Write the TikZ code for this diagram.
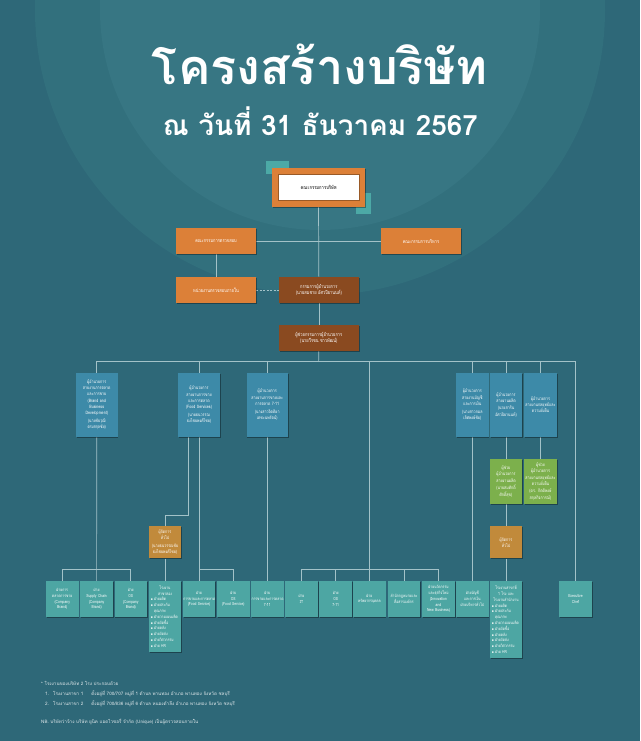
\documentclass[tikz,border=0pt]{standalone}
\usepackage{graphicx}
\usepackage{fontspec}
\setmainfont[Script=Thai]{Loma}
\newfontfamily\condthai[Script=Thai,FakeStretch=0.8]{Loma}
\usetikzlibrary{shadows}
\definecolor{bgc}{HTML}{2E6878}
\definecolor{ringa}{HTML}{32707D}
\definecolor{ringb}{HTML}{377683}
\definecolor{orangec}{HTML}{DC8038}
\definecolor{brownc}{HTML}{8A4A20}
\definecolor{bluec}{HTML}{3D8AA8}
\definecolor{greenc}{HTML}{7CB04C}
\definecolor{ochrec}{HTML}{C18A3B}
\definecolor{tealc}{HTML}{4DA6A3}
\definecolor{sqc}{HTML}{4CA9A6}
\definecolor{linec}{HTML}{A3C2C8}
\definecolor{darktext}{HTML}{3A3A3A}
\pgfdeclarelayer{back}
\pgfdeclarelayer{lines}
\pgfsetlayers{back,lines,main}
\newcommand{\orgbul}{\makebox[3.5pt][l]{\scalebox{0.7}{$\bullet$}}}
\tikzset{
  orgbox/.style={draw=none, align=center, inner sep=0.5pt, text=white,
    font=\condthai\fontsize{4.5}{6.2}\selectfont,
    drop shadow={opacity=0.35, shadow xshift=0.8pt, shadow yshift=-0.8pt, fill=black}},
  orangebox/.style={orgbox, fill=orangec, minimum width=80, minimum height=25.7, font=\condthai\fontsize{5}{6.5}\selectfont},
  brownbox/.style={orgbox, fill=brownc, minimum width=80.3, minimum height=25.7, font=\condthai\fontsize{5}{6.8}\selectfont},
  bluebox/.style={orgbox, fill=bluec, minimum height=64},
  greenbox/.style={orgbox, fill=greenc, minimum height=44.7},
  ochrebox/.style={orgbox, fill=ochrec, minimum width=32, text width=31pt, minimum height=32},
  tealbox/.style={orgbox, fill=tealc, minimum width=32.5, text width=31.5pt, minimum height=36,
    font=\condthai\fontsize{4.2}{5.8}\selectfont},
  conn/.style={draw=linec, line width=0.7pt},
  fnote/.style={anchor=west, text=white!85!bgc, inner sep=0pt, font=\fontsize{4.6}{6}\selectfont},
}
\begin{document}
\begin{tikzpicture}[x=1pt,y=-1pt]
\useasboundingbox (0,0) rectangle (640,741);
\begin{pgfonlayer}{back}
  \fill[bgc] (0,0) rectangle (640,741);
  \fill[ringa] (320,10) circle (285);
  \fill[ringb] (320,10) circle (220);
  \fill[sqc] (266,161) rectangle (289.3,174.3);
  \fill[sqc] (356.3,192.7) rectangle (370.7,213.7);
\end{pgfonlayer}

% title
\node[text=white, inner sep=0pt] (title) at (320,64) {\resizebox{336pt}{!}{\bfseries โครงสร้างบริษัท}};
\node[text=white, inner sep=0pt] (subtitle) at (320.5,121) {\resizebox{315pt}{!}{\bfseries ณ วันที่ 31 ธันวาคม 2567}};

% top
\node[orgbox, fill=orangec, minimum width=93, minimum height=38.4] (board) at (318.5,187.5) {};
\node[draw=orangec!70!black, line width=0.3pt, fill=white, minimum width=80.7, minimum height=26, inner sep=0pt,
      text=darktext, font=\condthai\bfseries\fontsize{5.2}{6}\selectfont] (boardin) at (318.65,187.3) {คณะกรรมการบริษัท};
\node[orangebox] (audit) at (216,241.2) {คณะกรรมการตรวจสอบ};
\node[orangebox] (exec) at (421,241.2) {คณะกรรมการบริหาร};
\node[orangebox] (ia) at (216,289.9) {หน่วยงานตรวจสอบภายใน};
\node[brownbox] (md) at (318.85,289.9) {กรรมการผู้อำนวยการ\\(นายสมชาย อัศวปิยานนท์)};
\node[brownbox] (asst) at (318.85,337.9) {ผู้ช่วยกรรมการผู้อำนวยการ\\(นายวีรชน ชาวพัฒน์)};

% directors
\node[bluebox, minimum width=41.5, text width=40pt] (b1) at (96.75,404.7) {ผู้อำนวยการ\\สายงานการตลาด\\และการขาย\\(Brand and\\Business\\Development)\\[1.5pt](นายชัยวุฒิ\\ตรงสกุลชัย)};
\node[bluebox, minimum width=42, text width=40.5pt] (b2) at (199,404.7) {ผู้อำนวยการ\\สายงานการขาย\\และการตลาด\\(Food Services)\\[1.5pt](นายธนวรรณ\\ธงไชยพงศ์ไชย)};
\node[bluebox, minimum width=41.5, text width=40pt] (b3) at (267.25,404.7) {ผู้อำนวยการ\\สายงานการขายและ\\การตลาด 7-11\\[1.5pt](นางสาวจิตติยา\\เตชะนพรัตน์)};
\node[bluebox, minimum width=32.6, text width=31pt] (b4) at (472.3,404.7) {ผู้อำนวยการ\\สายงานบัญชี\\และการเงิน\\[1.5pt](นางสาวกมล\\เลิศพงษ์ชัย)};
\node[bluebox, minimum width=32, text width=31pt] (b5) at (506,404.7) {ผู้อำนวยการ\\สายงานผลิต\\[1.5pt](นายสาริน\\อัศวปิยานนท์)};
\node[bluebox, minimum width=33, text width=32pt] (b6) at (540.5,404.7) {ผู้อำนวยการ\\สายงานกลยุทธ์และ\\ความยั่งยืน};

\node[greenbox, minimum width=32, text width=31pt] (g1) at (506,481.65) {ผู้ช่วย\\ผู้อำนวยการ\\สายงานผลิต\\[1.5pt](นายสมศักดิ์\\ศักดิ์สุข)};
\node[greenbox, minimum width=33, text width=32pt] (g2) at (540.5,481.65) {ผู้ช่วย\\ผู้อำนวยการ\\สายงานกลยุทธ์และ\\ความยั่งยืน\\[1.5pt](ดร. กิตติพงษ์\\สกุลกิจการณ์)};

\node[ochrebox] (y1) at (165,542.3) {ผู้จัดการ\\ทั่วไป\\[1.5pt](นายธนวรรณชัย\\ธงไชยพงศ์ไชย)};
\node[ochrebox] (y2) at (506,542.3) {ผู้จัดการ\\ทั่วไป};

% bottom row
\node[tealbox] (ba) at (62.25,599) {ฝ่ายการ\\ตลาดการขาย\\(Company\\Brand)};
\node[tealbox] (bb) at (96.6,599) {ฝ่าย\\Supply Chain\\(Company\\Brand)};
\node[tealbox] (bc) at (130.8,599) {ฝ่าย\\OS\\(Company\\Brand)};
\node[tealbox, minimum height=70.7, text width=29pt, align=left] (bd) at (165,616.35) {\centering โรงงาน\\สาขาสอง\par\raggedright
 \orgbul ฝ่ายผลิต\\ \orgbul ฝ่ายประกัน\\ \hspace*{3.5pt}คุณภาพ\\ \orgbul ฝ่ายวางแผนผลิต\\ \orgbul ฝ่ายจัดซื้อ\\ \orgbul ฝ่ายคลัง\\ \orgbul ฝ่ายจัดส่ง\\ \orgbul ฝ่ายวิศวกรรม\\ \orgbul ฝ่าย HR};
\node[tealbox] (be) at (199,599) {ฝ่าย\\การขายและการตลาด\\(Food Service)};
\node[tealbox] (bf) at (233.3,599) {ฝ่าย\\OS\\(Food Service)};
\node[tealbox] (bg) at (267.25,599) {ฝ่าย\\การขายและการตลาด\\7-11};
\node[tealbox] (bh) at (301.5,599) {ฝ่าย\\IT};
\node[tealbox] (bi) at (335.7,599) {ฝ่าย\\OS\\7-11};
\node[tealbox] (bj) at (369.4,599) {ฝ่าย\\ทรัพยากรบุคคล};
\node[tealbox] (bk) at (404,599) {สำนักกฎหมายและ\\สื่อสารองค์กร};
\node[tealbox] (bl) at (438.5,599) {ฝ่ายนวัตกรรม\\และธุรกิจใหม่\\(Innovation\\and\\New Business)};
\node[tealbox] (bm) at (472.3,599) {ฝ่ายบัญชี\\และการเงิน\\ฝ่ายบริหารทั่วไป};
\node[tealbox, minimum height=76.7, text width=29pt, align=left] (bn) at (506,619.35) {\centering โรงงานสาขาที่\\1 โรง และ\\โรงงานสำนักงาน\par\raggedright
 \orgbul ฝ่ายผลิต\\ \orgbul ฝ่ายประกัน\\ \hspace*{3.5pt}คุณภาพ\\ \orgbul ฝ่ายวางแผนผลิต\\ \orgbul ฝ่ายจัดซื้อ\\ \orgbul ฝ่ายคลัง\\ \orgbul ฝ่ายจัดส่ง\\ \orgbul ฝ่ายวิศวกรรม\\ \orgbul ฝ่าย HR};
\node[tealbox] (chef) at (575.5,599) {Executive\\Chef};

% footnotes
\node[fnote] (fn1) at (41,683.3) {* โรงงานของบริษัท 2 โรง ประกอบด้วย};
\node[fnote] (fn2) at (45,693.3) {1.\hspace{4pt}โรงงานสาขา 1\hspace{8pt}ตั้งอยู่ที่ 700/707 หมู่ที่ 1 ตำบล พานทอง อำเภอ พานทอง จังหวัด ชลบุรี};
\node[fnote] (fn3) at (45,703.3) {2.\hspace{4pt}โรงงานสาขา 2\hspace{8pt}ตั้งอยู่ที่ 700/836 หมู่ที่ 6 ตำบล หนองตำลึง อำเภอ พานทอง จังหวัด ชลบุรี};
\node[fnote] (fn4) at (41,721.7) {NB. บริษัทว่าจ้าง บริษัท ยูนิค แอดไวซอรี่ จำกัด (Unique) เป็นผู้ตรวจสอบภายใน};

% connectors
\coordinate (bus) at (318.6,361.7);
\coordinate (lowbus) at (0,569.3);
\coordinate (elbow) at (188.6,515.3);
\begin{pgfonlayer}{lines}
  \draw[conn] (board.south) -- (md.north);
  \draw[conn] (md.south) -- (asst.north);
  \draw[conn] (audit) -- (exec);
  \draw[conn] (audit.south) -- (ia.north);
  \draw[conn, dash pattern=on 2pt off 1.5pt] (ia.east) -- (md.west);
  \draw[conn] (asst.south) -- (bus);
  \foreach \n in {b1,b2,b3,b4,b5,b6,chef} \draw[conn] (bus) -| (\n.north);
  \draw[conn] (bus) -| (bj.north);
  % b1 group
  \draw[conn] (b1.south) -- (bb.north);
  \draw[conn] (bb.north |- lowbus) -| (ba.north);
  \draw[conn] (bb.north |- lowbus) -| (bc.north);
  % b2 group
  \draw[conn] (b2.south) -- (be.north);
  \draw[conn] (be.north |- lowbus) -| (bf.north);
  \draw[conn] (b2.south -| elbow) -- (elbow) -| (y1.north);
  \draw[conn] (y1.south) -- (bd.north);
  % b3
  \draw[conn] (b3.south) -- (bg.north);
  % middle group
  \foreach \n in {bh,bi,bk,bl} \draw[conn] (bj.north |- lowbus) -| (\n.north);
  % right
  \draw[conn] (b4.south) -- (bm.north);
  \draw[conn] (b5.south) -- (g1.north);
  \draw[conn] (g1.south) -- (y2.north);
  \draw[conn] (y2.south) -- (bn.north);
  \draw[conn] (b6.south) -- (g2.north);
\end{pgfonlayer}
\end{tikzpicture}
\end{document}
